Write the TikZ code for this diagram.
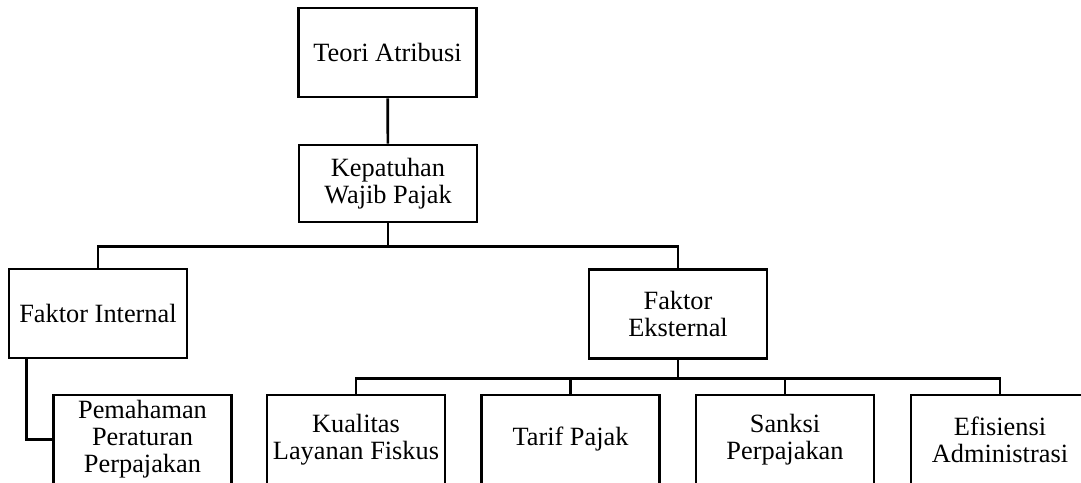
\documentclass[tikz,border=0pt]{standalone}
\usepackage{fontspec}
\setmainfont{Liberation Serif}
\usepackage{tikz}
\usetikzlibrary{positioning, calc}

\begin{document}
\begin{tikzpicture}[
    x=0.016cm, y=-0.016cm,
    box/.style={draw, line width=1.2pt, minimum width=2.848cm, minimum height=1.424cm,
        align=center, inner sep=1pt, font=\fontsize{12}{12.3}\selectfont},
    link/.style={line width=1.2pt},
]
\clip (0,0) rectangle (1081,482);
% Top
\node[box] (teori) at (387.5, 52.5) {Teori Atribusi};
\node[box, minimum height=1.232cm] (kepatuhan) at (388, 183.5) {Kepatuhan\\Wajib Pajak};
\draw[link] (teori) -- (kepatuhan);

% Middle
\node[box] (internal) at (98, 313.5) {Faktor Internal};
\node[box] (eksternal) at (678, 314) {Faktor\\Eksternal};
\draw[link] (kepatuhan.south) -- ++(0, 23) coordinate (bus1);
\draw[link] (internal.north) |- (bus1) -| (eksternal.north);

% Bottom
\node[box] (pemahaman) at (142.5, 439.5) {Pemahaman\\Peraturan\\Perpajakan};
\draw[link] ([xshift=0.304cm]internal.south west) |- (pemahaman.west);
\node[box] (kualitas) at (356, 439.5) {Kualitas\\Layanan Fiskus};
\node[box] (tarif) at (570.5, 439.5) {Tarif Pajak};
\node[box] (sanksi) at (785, 439.5) {Sanksi\\Perpajakan};
\node[box] (efisiensi) at (1000, 439.5) {Efisiensi\\Administrasi};
\draw[link] (eksternal.south) -- ++(0, 19) coordinate (bus2);
\draw[link] (kualitas.north) |- (bus2) -| (efisiensi.north);
\draw[link] (tarif.north) -- (tarif.north |- bus2);
\draw[link] (sanksi.north) -- (sanksi.north |- bus2);
\end{tikzpicture}
\end{document}
